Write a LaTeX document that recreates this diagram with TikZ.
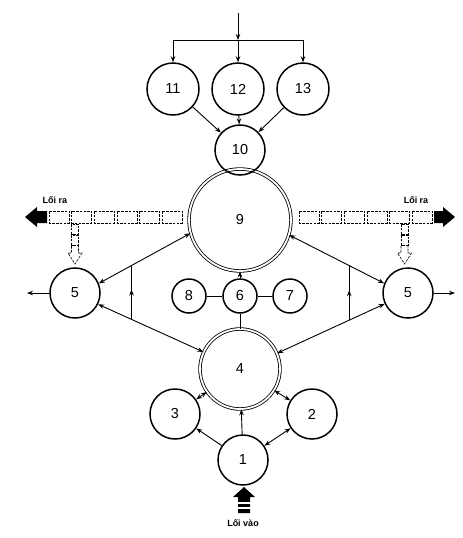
\documentclass[tikz,border=0pt]{standalone}
\usepackage{fontspec}
\setmainfont{Liberation Sans}
\usetikzlibrary{arrows.meta,calc,decorations.markings}
\begin{document}
\begin{tikzpicture}[x=1pt,y=-1pt,
  nd/.style={circle,draw,line width=1.5pt,inner sep=0pt,font=\fontsize{14.5}{14.5}\selectfont},
  bignd/.style={circle,draw,line width=0.8pt,double,double distance=1.8pt,inner sep=0pt,font=\fontsize{14.5}{14.5}\selectfont},
  conn/.style={line width=0.9pt},
  arr/.style={conn,-{Stealth[length=6pt,width=4.5pt]}},
  darr/.style={conn,{Stealth[length=6pt,width=4.5pt]}-{Stealth[length=6pt,width=4.5pt]}},
  dbox/.style={draw,line width=0.6pt,dash pattern=on 2.6pt off 1.2pt},
  lbl/.style={font=\bfseries\fontsize{9}{9}\selectfont},
  midup/.style={conn,decoration={markings,mark=at position 0.55 with {\arrow{Stealth[length=6pt,width=4.5pt]}}},postaction={decorate}}
]
\useasboundingbox (0,0) rectangle (463,538);
% nodes
\node[nd,minimum size=52pt] (n11) at (173,89) {11};
\node[nd,minimum size=52pt] (n12) at (238,89) {12};
\node[nd,minimum size=52pt] (n13) at (303,89) {13};
\node[bignd,minimum size=102pt] (n9) at (240,220) {9};
\node[nd,minimum size=50pt] (n10) at (240,150) {10};
\node[nd,minimum size=34pt] (n6) at (240,296) {6};
\node[nd,minimum size=34pt] (n8) at (189,296) {8};
\node[nd,minimum size=34pt] (n7) at (290,296) {7};
\node[nd,minimum size=50pt] (n5l) at (75,293) {5};
\node[nd,minimum size=50pt] (n5r) at (408,293) {5};
\node[bignd,minimum size=80pt] (n4) at (240,369) {4};
\node[nd,minimum size=50pt] (n3) at (175,414) {3};
\node[nd,minimum size=50pt] (n2) at (312,414) {2};
\node[nd,minimum size=50pt] (n1) at (243,460) {1};
% top feed
\coordinate (top) at (238,13);
\coordinate (jn) at (238,40);
\draw[arr] (top) -- (jn);
\draw[arr] (jn) -- (n12);
\draw[arr] (jn) -| (n11.north);
\draw[arr] (jn) -| (n13.north);
\draw[arr] (n11) -- (n10);
\draw[arr] (n12) -- (n10);
\draw[arr] (n13) -- (n10);
% middle
\draw[arr] (n6) -- (n9);
\draw[conn] (n8) -- (n6);
\draw[conn] (n6) -- (n7);
\draw[conn] (n6) -- (n4);
% left side
\draw[darr] (n5l.22) -- coordinate[pos=0.367] (ul) (n9.195);
\draw[darr] (n5l.334) -- coordinate[pos=0.317] (ll) (n4.155);
\draw[midup] (ll) -- (ll |- ul);
\coordinate (outl) at (27,293);
\draw[arr] (n5l.west) -- (outl);
% right side
\draw[darr] (n9.343) -- coordinate[pos=0.634] (ur) (n5r.158);
\draw[darr] (n4.23) -- coordinate[pos=0.67] (lr) (n5r.205);
\draw[midup] (lr) -- (lr |- ur);
\coordinate (outr) at (455,293);
\draw[arr] (n5r.east) -- (outr);
% bottom
\draw[arr] (n1) -- (n4);
\draw[arr] (n1) -- (n3);
\draw[darr] (n1) -- (n2);
\draw[darr] (n4) -- (n3);
\draw[darr] (n4) -- (n2);
% output left
\foreach \i in {0,...,5} {
  \draw[dbox] ({49+\i*22.6},211) rectangle ({69+\i*22.6},223);
}
\fill (25,217) -- (37,207) -- (37,211) -- (47,211) -- (47,223) -- (37,223) -- (37,227) -- cycle;
\node[lbl] (lo1) at (55,200) {Lối ra};
\draw[dbox] (71.5,224) rectangle (78.5,234);
\draw[dbox] (71.5,235) rectangle (78.5,245);
\draw[dbox] (71.5,246) -- (71.5,253) -- (68,253) -- (75,264) -- (82,253) -- (78.5,253) -- (78.5,246);
% output right
\foreach \i in {0,...,5} {
  \draw[dbox] ({299+\i*22.6},211) rectangle ({319+\i*22.6},223);
}
\fill (455,217) -- (443,207) -- (443,211) -- (434,211) -- (434,223) -- (443,223) -- (443,227) -- cycle;
\node[lbl] (lo2) at (416,200) {Lối ra};
\draw[dbox] (401,224) rectangle (408,234);
\draw[dbox] (401,235) rectangle (408,245);
\draw[dbox] (401,246) -- (401,253) -- (397.5,253) -- (404.5,264) -- (411.5,253) -- (408,253) -- (408,246);
% input
\fill (244,487) -- (255,497) -- (250,497) -- (250,513) -- (238,513) -- (238,497) -- (233,497) -- cycle;
\draw[white,line width=1.2pt] (237,503) -- (251,503);
\draw[white,line width=1.2pt] (237,508) -- (251,508);
\node[lbl] (li) at (243,523) {Lối vào};
\end{tikzpicture}
\end{document}
